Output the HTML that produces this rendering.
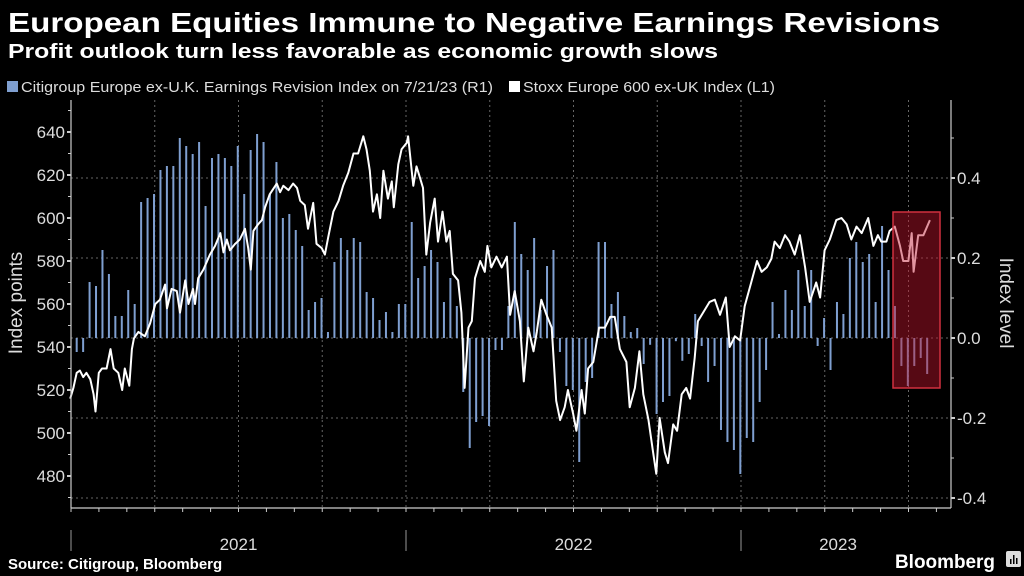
<!DOCTYPE html>
<html><head><meta charset="utf-8"><style>
html,body{margin:0;padding:0;background:#000;}
svg{display:block;font-family:"Liberation Sans",sans-serif;}
</style></head><body>
<svg id="chart" width="1024" height="576" viewBox="0 0 1024 576">
<rect width="1024" height="576" fill="#000"/>
<text x="8" y="32" fill="#fff" font-size="28" font-weight="bold" textLength="932" lengthAdjust="spacingAndGlyphs">European Equities Immune to Negative Earnings Revisions</text>
<text x="8" y="58" fill="#fff" font-size="20" font-weight="bold" textLength="710" lengthAdjust="spacingAndGlyphs">Profit outlook turn less favorable as economic growth slows</text>
<g>
<rect x="7" y="81" width="11" height="11" fill="#7f9fd0"/>
<text x="21" y="92" fill="#ddd" font-size="14.5" textLength="472" lengthAdjust="spacingAndGlyphs">Citigroup Europe ex-U.K. Earnings Revision Index on 7/21/23 (R1)</text>
<rect x="509" y="81" width="11" height="11" fill="#fff"/>
<text x="523" y="92" fill="#ddd" font-size="14.5" textLength="252" lengthAdjust="spacingAndGlyphs">Stoxx Europe 600 ex-UK Index (L1)</text>
</g>
<g id="grid"></g>
<g id="bars"></g>
<g id="line"></g>
<rect x="893" y="212" width="47" height="176" fill="rgba(190,20,45,0.45)" stroke="#d0303f" stroke-width="1.5"/>
<g id="axes"></g>
<text transform="translate(22,303) rotate(-90)" text-anchor="middle" fill="#ddd" font-size="19">Index points</text>
<text transform="translate(1000,303) rotate(90)" text-anchor="middle" fill="#ddd" font-size="19">Index level</text>
<text x="8" y="569" fill="#fff" font-size="15" font-weight="bold">Source: Citigroup, Bloomberg</text>
<text x="945" y="568" fill="#fff" font-size="19" font-weight="bold" text-anchor="middle" textLength="100" lengthAdjust="spacingAndGlyphs">Bloomberg</text>
<g>
<rect x="1006" y="551" width="15" height="16" rx="2" fill="#ddd"/>
<rect x="1010" y="559" width="1.5" height="5" fill="#000"/>
<rect x="1013" y="555" width="1.5" height="9" fill="#000"/>
<rect x="1016" y="558" width="1.5" height="6" fill="#000"/>
</g>
</svg>
<script>
// Earnings revision index, weekly from early Jan 2021
const revisionValues = [-0.035,-0.035,0.14,0.13,0.22,0.16,0.055,0.055,0.12,0.085,0.34,0.35,0.36,0.42,0.43,0.43,0.50,0.48,0.46,0.49,0.33,0.45,0.46,0.45,0.43,0.48,0.36,0.47,0.51,0.49,0.36,0.44,0.30,0.31,0.27,0.23,0.07,0.09,0.10,0.015,0.19,0.25,0.22,0.25,0.24,0.115,0.10,0.045,0.065,0.015,0.085,0.085,
0.29,0.15,0.18,0.22,0.19,0.09,0.15,0.08,-0.135,-0.275,-0.21,-0.195,-0.22,-0.03,-0.03,0.08,0.29,0.21,0.17,0.25,0.07,0.18,0.22,-0.035,-0.12,-0.13,-0.31,-0.11,-0.10,0.24,0.24,0.085,0.115,0.055,0.015,0.025,-0.065,-0.017,-0.19,-0.16,-0.145,-0.008,-0.057,-0.04,0.06,
-0.02,-0.11,-0.07,-0.23,-0.26,-0.28,-0.34,-0.25,-0.26,-0.16,-0.08,0.09,0.01,0.12,0.07,0.17,0.08,0.17,-0.02,0.05,-0.08,0.09,0.06,0.20,0.24,0.19,0.21,0.09,0.28,0.17,0.08,-0.07,-0.12,-0.07,-0.05,-0.09];
// Stoxx index: time in weeks since first revision reading, and level
const stoxxWeeks = [-1.0,-0.5,0,0.5,1.0,1.5,2.1,2.6,2.9,3.4,3.9,4.6,5.2,5.7,6.4,7.0,7.4,8.1,8.5,8.8,9.5,10.5,11.3,12.1,12.8,13.6,13.9,14.6,15.4,15.9,16.7,17.2,17.9,18.2,18.7,19.5,20.5,21.3,22.1,22.6,23.1,23.6,24.4,25.1,25.9,26.4,26.8,27.2,27.9,28.5,29.0,29.7,30.8,31.3,31.8,32.6,33.3,33.9,34.4,35.1,35.6,36.4,36.9,37.7,38.2,38.7,39.5,40.3,41.0,41.8,42.6,43.3,44.1,44.6,45.1,45.6,46.2,46.7,47.2,47.9,48.5,48.8,49.5,50.0,50.8,
51.0,51.8,52.3,52.8,53.3,53.8,54.4,55.1,55.6,56.3,56.9,57.4,57.9,58.7,59.2,59.7,60.3,60.8,61.3,62.1,62.8,63.2,63.8,64.6,65.4,66.2,66.7,67.4,68.2,68.8,69.5,70.3,70.8,71.5,72.3,73.1,73.8,74.4,75.1,75.6,76.4,76.9,77.7,78.2,78.7,79.5,80.4,81.3,82.1,82.8,83.6,84.6,85.1,85.9,86.6,87.2,88.0,88.7,89.2,89.7,90.5,91.0,91.8,92.4,93.1,93.8,94.4,95.1,95.6,
96.4,97.4,98.2,99.0,99.9,100.5,101.3,102.1,102.8,103.8,104.7,105.4,106.2,106.9,107.4,108.2,109.0,109.7,110.5,111.3,112.1,112.8,113.8,114.4,115.1,115.9,116.9,117.7,118.5,119.2,120.0,120.8,121.8,122.6,123.3,123.8,124.6,125.1,125.9,126.7,127.2,128.0,128.5,128.8,129.5,130.3,131.3];
const stoxxValues = [516,521,528,529,526,528,525,518,510,528,530,530,539,530,528,520,530,522,539,544,547,545,551,560,562,569,558,567,566,556,571,560,567,560,572,576,583,587,593,584,590,585,588,590,595,586,576,594,597,599,605,611,616,612,615,613,616,614,608,606,595,607,588,586,583,591,603,608,615,621,630,630,638,632,622,603,611,600,622,609,617,605,625,632,635,
638,615,624,619,614,583,598,609,589,603,589,594,574,571,556,521,549,552,572,580,575,587,577,582,577,582,555,566,552,524,549,538,547,562,555,549,515,506,512,520,509,501,520,509,530,533,549,549,554,554,539,533,512,521,538,518,506,491,481,507,491,486,504,501,518,521,516,535,552,
556,561,562,555,563,540,545,543,559,570,580,575,577,581,589,586,592,589,583,592,577,561,570,563,585,590,599,600,597,590,596,593,600,587,592,589,589,594,596,587,580,580,593,575,592,592,599];
const leftTicks = [480,500,520,540,560,580,600,620,640];
const rightTicks = [-0.4,-0.2,0.0,0.2,0.4];
const yearLabels = ["2021","2022","2023"];

const NS="http://www.w3.org/2000/svg";
const X0=71, YEARPX=335, PLOT_R=951, PLOT_T=100, PLOT_B=508;
// time axis in days since 2021-01-01
const xDay = d => X0 + d*YEARPX/365;
const barDay = i => 6.2 + i*7.02;
const lineDay = w => 6.2 + w*7.08;
const yL = v => 132 + (640 - v)*2.15;
const yR = v => 338 - v*400;
function mk(tag, attrs, parent){const e=document.createElementNS(NS,tag);for(const k in attrs)e.setAttribute(k,attrs[k]);parent.appendChild(e);return e;}

const grid=document.getElementById('grid');
rightTicks.forEach(t=>{
  const g=mk('line',{x1:X0,x2:PLOT_R,y1:yR(t),y2:yR(t),stroke:'#666','stroke-width':1,'stroke-dasharray':'2,3'},grid);
  
  
});
for(let q=1;q<11;q++){
  const x=xDay(q*365/4);
  const g=mk('line',{x1:x,x2:x,y1:PLOT_T,y2:PLOT_B,stroke:'#666','stroke-width':1,'stroke-dasharray':'2,3'},grid);
  
  
}

const bars=document.getElementById('bars');
revisionValues.forEach((v,i)=>{
  const x=xDay(barDay(i));
  const y0=yR(0), y1=yR(v);
  const b=mk('rect',{x:x-1,y:Math.min(y0,y1),width:2,height:Math.max(0.8,Math.abs(y1-y0)),fill:'#7f9fd0'},bars);
  
  
});

const lineG=document.getElementById('line');
const pts=stoxxWeeks.map((w,i)=>xDay(lineDay(w)).toFixed(1)+','+yL(stoxxValues[i]).toFixed(1)).join(' ');
const pl=mk('polyline',{points:pts,fill:'none',stroke:'#fff','stroke-width':2,'stroke-linejoin':'round'},lineG);



const axes=document.getElementById('axes');
const al=mk('line',{x1:X0,x2:X0,y1:PLOT_T,y2:PLOT_B,stroke:'#ccc','stroke-width':1.2},axes);


const ar=mk('line',{x1:PLOT_R,x2:PLOT_R,y1:PLOT_T,y2:PLOT_B,stroke:'#ccc','stroke-width':1.2},axes);


const ab=mk('line',{x1:X0,x2:PLOT_R,y1:PLOT_B,y2:PLOT_B,stroke:'#ccc','stroke-width':1.2},axes);


for(let v=470;v<=650;v+=10){
  const y=yL(v); if(y<PLOT_T||y>PLOT_B)continue;
  const major=v%20===0;
  const t=mk('line',{x1:X0-(major?4:3),x2:X0,y1:y,y2:y,stroke:'#ccc','stroke-width':major?2:1},axes);
  
  
}
leftTicks.forEach(v=>{
  const t=mk('text',{x:X0-6,y:yL(v)+6,fill:'#ddd','font-size':17,'text-anchor':'end'},axes);
  t.textContent=v;
  
  
});
for(let k=-4;k<=5;k++){
  const v=k/10, y=yR(v);
  if(y<PLOT_T||y>PLOT_B)continue;
  const major=k%2===0;
  const t=mk('line',{x1:PLOT_R,x2:PLOT_R+(major?4:3),y1:y,y2:y,stroke:'#ccc','stroke-width':major?2:1},axes);
  
  
}
rightTicks.forEach(v=>{
  const t=mk('text',{x:PLOT_R+6,y:yR(v)+6,fill:'#ddd','font-size':17},axes);
  t.textContent=(v===0?'0.0':v.toFixed(1));
  
  
});
for(let m=0;m<=31;m++){
  const x=xDay(m*365/12); if(x>PLOT_R)break;
  const t=mk('line',{x1:x,x2:x,y1:PLOT_B,y2:PLOT_B+4,stroke:'#ccc','stroke-width':1},axes);
  
  
}
yearLabels.forEach((lab,i)=>{
  const xs=xDay(i*365);
  const sep=mk('line',{x1:xs,x2:xs,y1:530,y2:551,stroke:'#999','stroke-width':1},axes);
  
  
  const xe=xDay((i+1)*365);
  const t=mk('text',{x:(i===2?xs+97:(xs+xe)/2),y:550,fill:'#ddd','font-size':17,'text-anchor':'middle'},axes);
  t.textContent=lab;
  
  
});
</script>
</body></html>
